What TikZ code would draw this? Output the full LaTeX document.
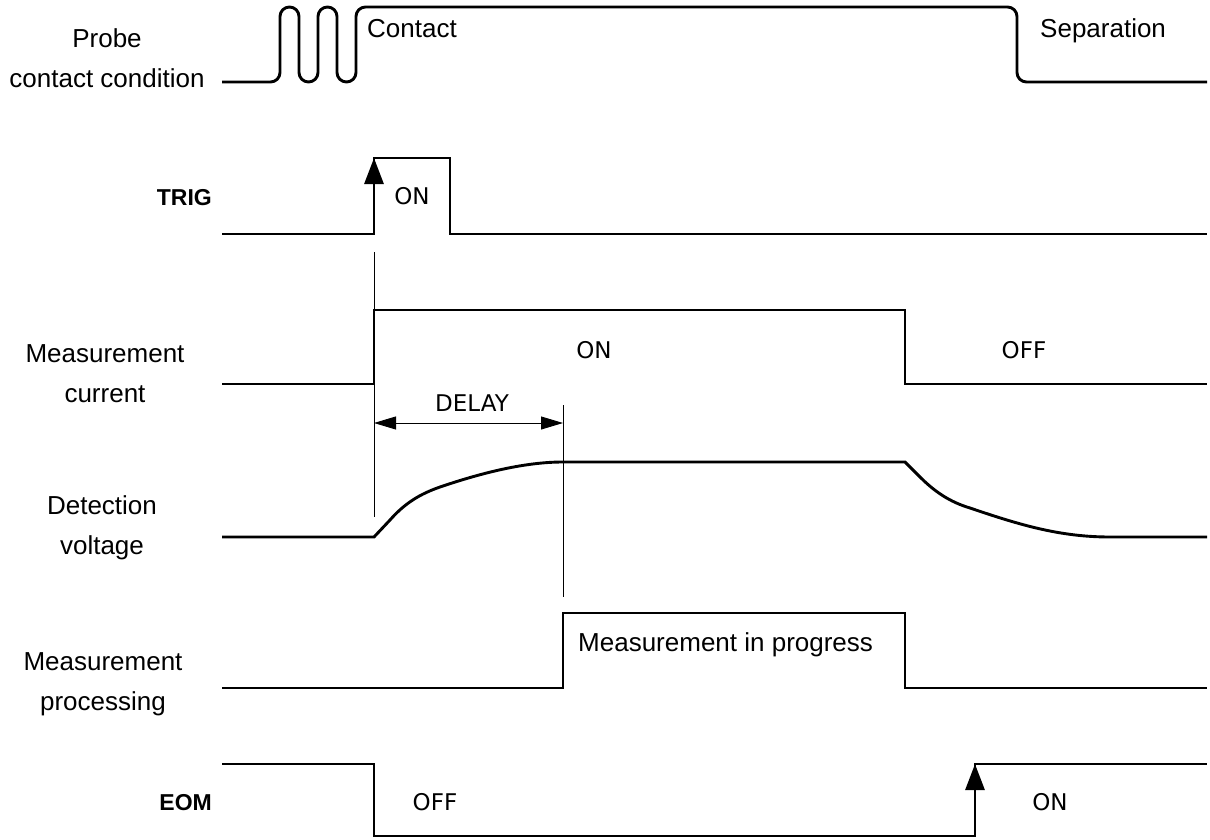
\documentclass[tikz,border=0pt]{standalone}
\usepackage{fontspec}
\setmainfont{Liberation Sans}
\newfontfamily\statefont{DejaVu Sans}
\usetikzlibrary{arrows.meta}

\begin{document}
\begin{tikzpicture}[x=1pt,y=-1pt,font=\fontsize{26}{40}\selectfont,
  wave/.style={line width=2.9pt},
  guide/.style={line width=0.9pt},
  lbl/.style={align=center,anchor=base,inner sep=0pt},
  tag/.style={anchor=base east,inner sep=0pt,font=\fontsize{23}{28}\selectfont\bfseries},
  state/.style={inner sep=0pt,font=\statefont\fontsize{23}{28}\selectfont},
  note/.style={anchor=base west,inner sep=0pt},
  edgeTip/.style={-{Triangle[length=26pt,width=19pt]},line width=2.9pt},
  dimTip/.style={{Triangle[length=22pt,width=13pt]}-{Triangle[length=22pt,width=13pt]},line width=0.9pt}]
\useasboundingbox (0,0) rectangle (1210,840);
\def\pulseRow#1#2#3#4{%
  \draw[wave] (222,#1) -- (#3,#1) -- (#3,#2) -- (#4,#2) -- (#4,#1) -- (1207,#1);}
% signal names
\node[lbl] (probeLbl) at (107,88) {Probe\\contact condition};
\node[tag] (trigLbl) at (212,205) {TRIG};
\node[lbl] (curLbl) at (105,402) {Measurement\\current};
\node[lbl] (voltLbl) at (102,554) {Detection\\voltage};
\node[lbl] (procLbl) at (103,710) {Measurement\\processing};
\node[tag] (eomLbl) at (212,810) {EOM};
% probe contact with bounce
\draw[wave,rounded corners=9.5pt] (222,82) -- (280,82) -- (280,7) -- (299,7) -- (299,82)
  -- (318,82) -- (318,7) -- (337,7) -- (337,82) -- (356,82) -- (356,7) -- (1017,7)
  -- (1017,82) -- (1207,82);
\node[note] (contactTxt) at (367,38) {Contact};
\node[note] (sepTxt) at (1040,38) {Separation};
% square signals
\pulseRow{234}{158}{374}{450}
\pulseRow{384}{310}{374}{905}
\pulseRow{688}{613}{563}{905}
\pulseRow{764}{836}{374}{975}
\coordinate (trigLo) at (374,234); \coordinate (trigHi) at (374,158);
\coordinate (eomLo) at (975,836); \coordinate (eomHi) at (975,764);
\draw[edgeTip] (trigLo) -- (trigHi);
\draw[edgeTip] (eomLo) -- (eomHi);
% detection voltage
\draw[wave] (222,537) -- (374,537) -- (390,520) .. controls (405,503) and (420,494) .. (440,487)
  .. controls (490,470) and (530,462) .. (563,462) -- (905,462) -- (920,477)
  .. controls (935,492) and (950,502) .. (970,508) .. controls (1020,525) and (1060,537) .. (1110,537)
  -- (1207,537);
% delay
\coordinate (dlyA) at (374,423); \coordinate (dlyB) at (563,423);
\draw[guide] (374,252) -- (374,517);
\draw[guide] (563,405) -- (563,597);
\draw[dimTip] (dlyA) -- (dlyB);
\node[state] (delayTxt) at (472,403) {DELAY};
% states
\node[state] (trigOn) at (412,196) {ON};
\node[state] (curOn) at (594,350) {ON};
\node[state] (curOff) at (1024,350) {OFF};
\node[note] (progTxt) at (578,651) {Measurement in progress};
\node[state] (eomOff) at (435,802) {OFF};
\node[state] (eomOn) at (1050,802) {ON};
\end{tikzpicture}
\end{document}
